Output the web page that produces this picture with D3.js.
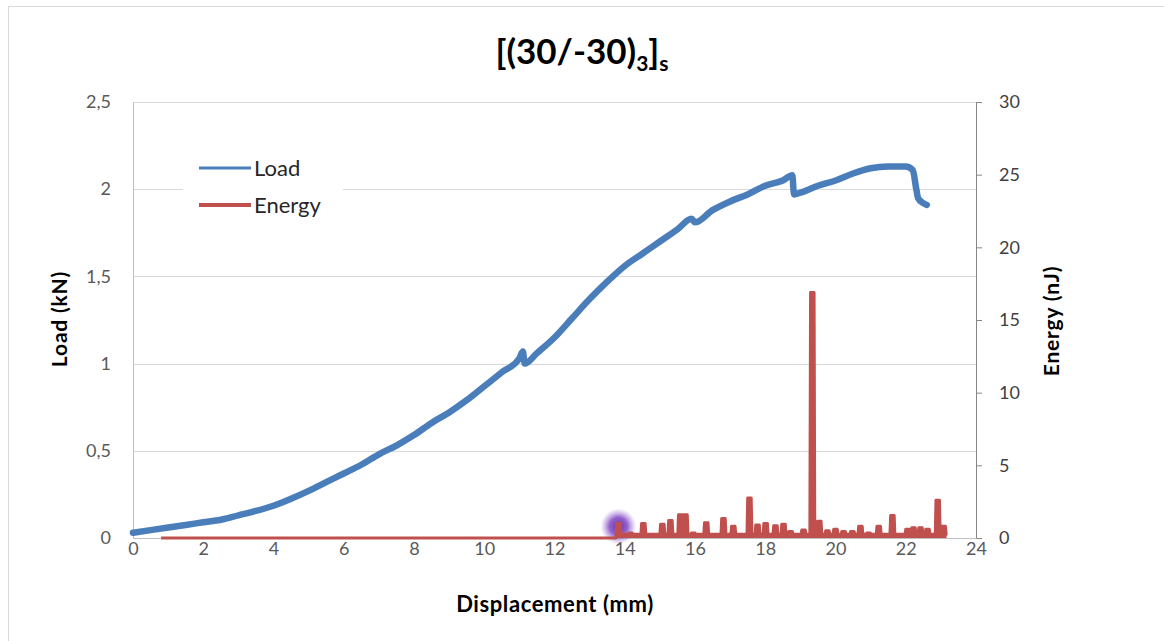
<!DOCTYPE html>
<html>
<head>
<meta charset="utf-8">
<script src="https://cdn.jsdelivr.net/npm/d3@7"></script>
<style>
  html, body { margin: 0; padding: 0; background: #fff; }
  svg { display: block; font-family: Lato, "Open Sans", sans-serif; }
</style>
</head>
<body>
<svg id="chart" width="1164" height="641"></svg>
<script>
// Load–displacement curve (mm, kN)
const loadDisp = [0, 0.5, 1, 1.5, 2, 2.5, 3, 3.5, 4, 4.5, 5, 5.5, 6, 6.5, 7, 7.5, 8, 8.5, 9, 9.5, 10, 10.5, 11, 11.1, 11.15,
  11.5, 12, 12.5, 13, 13.5, 14, 14.5, 15, 15.5, 15.9, 16, 16.5, 17, 17.5, 18, 18.5, 18.77, 18.82, 19, 19.5, 20, 20.5,
  21, 21.5, 22, 22.2, 22.3, 22.35, 22.5, 22.6];
const loadKN = [0.03, 0.045, 0.06, 0.075, 0.09, 0.105, 0.13, 0.155, 0.185, 0.225, 0.27, 0.32, 0.37, 0.42, 0.48, 0.53, 0.59, 0.66, 0.72, 0.79, 0.87, 0.95, 1.03, 1.07, 1.00,
  1.06, 1.15, 1.26, 1.37, 1.47, 1.56, 1.63, 1.70, 1.77, 1.83, 1.81, 1.88, 1.93, 1.97, 2.02, 2.05, 2.08, 1.97, 1.98, 2.02, 2.05, 2.09,
  2.12, 2.13, 2.13, 2.11, 2.00, 1.95, 1.92, 1.91];

// Acoustic energy events (mm, nJ)
const energyStart = 0.8, energyEnd = 23.12, energyActiveFrom = 13.6, energyBase = 0.25;
const eventDisp = [13.82, 14.16, 14.53, 15.07, 15.30, 15.58, 15.73, 15.95, 16.32, 16.81, 17.09, 17.55, 17.78, 18.01, 18.29,
  18.52, 18.72, 19.09, 19.34, 19.54, 19.77, 20.0, 20.23, 20.48, 20.71, 20.94, 21.23, 21.62, 22.05, 22.22, 22.42, 22.62, 22.91, 23.08];
const eventEnergy = [1.0, 0.35, 1.0, 0.95, 1.2, 1.6, 1.6, 0.35, 1.05, 1.35, 0.8, 2.75, 0.9, 1.0, 0.85,
  0.95, 0.45, 0.55, 16.9, 1.15, 0.5, 0.6, 0.45, 0.45, 0.8, 0.35, 0.8, 1.55, 0.6, 0.7, 0.7, 0.6, 2.6, 0.8];

const dispTicks = [0, 2, 4, 6, 8, 10, 12, 14, 16, 18, 20, 22, 24];
const loadTicks = [0, 0.5, 1, 1.5, 2, 2.5];
const energyTicks = [0, 5, 10, 15, 20, 25, 30];

const title = "[(30/-30)", titleSub1 = "3", titleMid = "]", titleSub2 = "s";

const svg = d3.select("#chart");
const x = d3.scaleLinear().domain([0, 24]).range([133, 976]);
const yL = d3.scaleLinear().domain([0, 2.5]).range([538, 102]);
const yR = d3.scaleLinear().domain([0, 30]).range([538, 102]);
const comma = d => String(d).replace(".", ",");

const blue = "#4a7ebb", red = "#c0504d";

// chart frame
svg.append("rect").attr("x", 8.5).attr("y", 6.5).attr("width", 1200).attr("height", 700)
  .attr("fill", "#fff").attr("stroke", "#d9d9d9");

// gridlines
svg.append("g").selectAll("line").data(loadTicks.slice(1)).join("line")
  .attr("x1", x(0)).attr("x2", x(24))
  .attr("y1", d => Math.round(yL(d)) + 0.5).attr("y2", d => Math.round(yL(d)) + 0.5)
  .attr("stroke", "#d9d9d9").attr("stroke-width", 1);

// left axis
const gL = svg.append("g").attr("transform", `translate(${x(0)},0)`)
  .call(d3.axisLeft(yL).tickValues(loadTicks).tickFormat(comma).tickSize(0).tickPadding(22));
gL.select(".domain").attr("stroke", "#bfbfbf");
gL.selectAll("text").attr("font-size", 18).attr("fill", "#595959").attr("font-family", "Lato, sans-serif");

// right axis
const gR = svg.append("g").attr("transform", `translate(${x(24)},0)`)
  .call(d3.axisRight(yR).tickValues(energyTicks).tickSize(6).tickPadding(17));
gR.select(".domain").attr("stroke", "#868686");
gR.selectAll(".tick line").attr("stroke", "#868686");
gR.selectAll("text").attr("font-size", 18).attr("fill", "#404040").attr("font-family", "Lato, sans-serif");

// bottom axis
const gB = svg.append("g").attr("transform", `translate(0,${yL(0)})`)
  .call(d3.axisBottom(x).tickValues(dispTicks).tickSize(0).tickPadding(4));
gB.select(".domain").attr("stroke", "#bfbfbf");
gB.selectAll("text").attr("font-size", 18).attr("fill", "#595959").attr("font-family", "Lato, sans-serif");

// highlight glow at the first emission
const defs = svg.append("defs");
const rg = defs.append("radialGradient").attr("id", "glow");
rg.append("stop").attr("offset", "0%").attr("stop-color", "#6a2fa8").attr("stop-opacity", 1);
rg.append("stop").attr("offset", "50%").attr("stop-color", "#7a3cc0").attr("stop-opacity", 0.8);
rg.append("stop").attr("offset", "100%").attr("stop-color", "#a27ad8").attr("stop-opacity", 0);
svg.append("circle").attr("cx", x(eventDisp[0])).attr("cy", yR(0.8)).attr("r", 18).attr("fill", "url(#glow)");

// energy series
const ePts = [[energyStart, 0], [energyActiveFrom, 0]];
eventDisp.forEach((d, i) => {
  const base = i === 0 ? 0 : energyBase;
  ePts.push([d - 0.07, base], [d - 0.05, eventEnergy[i]], [d + 0.05, eventEnergy[i]], [d + 0.07, energyBase]);
});
ePts.push([energyEnd, energyBase], [energyEnd, 0]);
svg.append("path").datum(ePts)
  .attr("d", d3.area().x(d => x(d[0])).y0(yR(0)).y1(d => yR(d[1])))
  .attr("fill", red);
svg.append("path").datum(ePts)
  .attr("d", d3.line().x(d => x(d[0])).y(d => yR(d[1])))
  .attr("fill", "none").attr("stroke", red).attr("stroke-width", 3).attr("stroke-linejoin", "round");

// load series
svg.append("path").datum(d3.zip(loadDisp, loadKN))
  .attr("d", d3.line().curve(d3.curveMonotoneX).x(d => x(d[0])).y(d => yL(d[1])))
  .attr("fill", "none").attr("stroke", blue).attr("stroke-width", 6.5)
  .attr("stroke-linejoin", "round").attr("stroke-linecap", "round");

// legend
const lg = svg.append("g");
lg.append("rect").attr("x", 183).attr("y", 150).attr("width", 160).attr("height", 76).attr("fill", "#fff");
const legendItems = [{ name: "Load", color: blue, w: 3, y: 168 }, { name: "Energy", color: red, w: 4, y: 205 }];
legendItems.forEach(it => {
  lg.append("line").attr("x1", 199).attr("x2", 251).attr("y1", it.y).attr("y2", it.y)
    .attr("stroke", it.color).attr("stroke-width", it.w);
  lg.append("text").attr("x", 254).attr("y", it.y).attr("dy", "0.35em")
    .attr("font-size", 22).attr("fill", "#262626").text(it.name);
});

// title
const t = svg.append("text").attr("x", 582).attr("y", 64).attr("text-anchor", "middle")
  .attr("font-size", 35).attr("font-weight", "bold").attr("fill", "#000");
t.append("tspan").text(title);
t.append("tspan").attr("font-size", 21).attr("dy", 7).text(titleSub1);
t.append("tspan").attr("dy", -7).text(titleMid);
t.append("tspan").attr("font-size", 21).attr("dy", 7).text(titleSub2);

// axis titles
svg.append("text").attr("transform", "translate(67,319) rotate(-90)").attr("text-anchor", "middle")
  .attr("font-size", 21).attr("letter-spacing", 0.8).attr("font-weight", "bold").attr("fill", "#000").text("Load (kN)");
svg.append("text").attr("transform", "translate(1059,321) rotate(-90)").attr("text-anchor", "middle")
  .attr("font-size", 21).attr("letter-spacing", 0.8).attr("font-weight", "bold").attr("fill", "#000").text("Energy (nJ)");
svg.append("text").attr("x", 555).attr("y", 612).attr("text-anchor", "middle")
  .attr("font-size", 22).attr("letter-spacing", 0.6).attr("font-weight", "bold").attr("fill", "#000").text("Displacement (mm)");
</script>
</body>
</html>
